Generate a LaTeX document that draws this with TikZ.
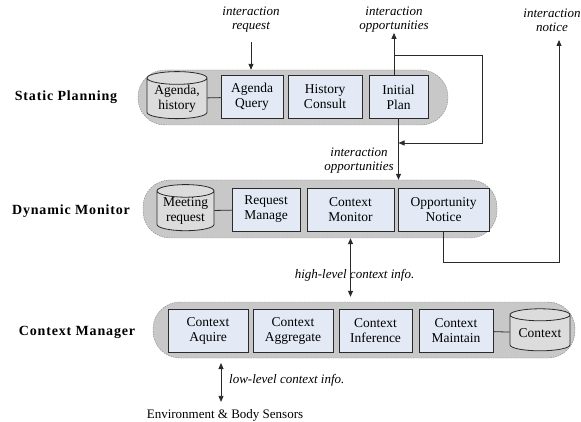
\documentclass[tikz,border=0pt]{standalone}
\usepackage{fontspec}
\setmainfont{Liberation Serif}
\usetikzlibrary{arrows.meta,shapes.geometric}

\definecolor{layergray}{HTML}{C8C8C8}
\definecolor{unitblue}{HTML}{E3EAF6}
\definecolor{drumgray}{HTML}{DCDCDC}
\definecolor{inkgray}{HTML}{2A2A2A}

\tikzset{
  layer/.style={draw=gray, dash pattern=on 1.5pt off 1pt, fill=layergray,
    rounded corners=27pt, inner sep=0pt},
  unit/.style={draw=inkgray, line width=0.9pt, fill=unitblue, minimum height=43pt,
    inner sep=0pt, align=center, font=\fontsize{13.5}{15}\selectfont},
  drum/.style={cylinder, shape border rotate=90, aspect=0.28, draw=inkgray,
    line width=0.8pt, fill=drumgray, inner sep=0pt, align=center,
    font=\fontsize{13.5}{15}\selectfont},
  tier/.style={font=\fontsize{14}{16}\selectfont\bfseries\addfontfeature{LetterSpace=6}},
  flow/.style={font=\fontsize{13}{14}\selectfont\itshape, align=center, inner sep=0pt},
  wire/.style={draw=inkgray, line width=0.8pt},
}

\begin{document}
\begin{tikzpicture}[x=1pt, y=-1pt, >={Triangle[length=6pt,width=5pt]}]
    \useasboundingbox (0,0) rectangle (581,422);

    % Static Planning
    \node[tier] (tsp) at (66,97) {Static Planning};
    \node[layer, minimum width=310pt, minimum height=55pt] (sp) at (293,97.5) {};
    \node[drum, minimum width=60pt, minimum height=47pt] (ah) at (177,98.5) {Agenda,\\history};
    \node[unit, minimum width=62pt] (aq) at (252,97) {Agenda\\Query};
    \node[unit, minimum width=74pt] (hc) at (325,97) {History\\Consult};
    \node[unit, minimum width=59pt] (ip) at (398.5,97) {Initial\\Plan};
    \draw[wire] (ah) -- (aq);

    % Dynamic Monitor
    \node[tier] (tdm) at (71,211) {Dynamic Monitor};
    \node[layer, minimum width=354pt, minimum height=58pt] (dm) at (320,209) {};
    \node[drum, minimum width=57pt, minimum height=44pt] (mr) at (185.5,211) {Meeting\\request};
    \node[unit, minimum width=68pt] (rm) at (266,209.5) {Request\\Manage};
    \node[unit, minimum width=87pt] (cmon) at (350.5,209.5) {Context\\Monitor};
    \node[unit, minimum width=91pt] (on) at (443.5,209.5) {Opportunity\\Notice};
    \draw[wire] (mr) -- (rm);

    % Context Manager
    \node[tier] (tcm) at (77,332) {Context Manager};
    \node[layer, minimum width=422pt, minimum height=56pt] (cm) at (364,330) {};
    \node[unit, minimum width=80pt] (ca) at (208,330.5) {Context\\Aquire};
    \node[unit, minimum width=80pt] (cag) at (293,330.5) {Context\\Aggregate};
    \node[unit, minimum width=73pt] (ci) at (375.5,330.5) {Context\\Inference};
    \node[unit, minimum width=74pt] (cmt) at (456,330.5) {Context\\Maintain};
    \node[drum, minimum width=60pt, minimum height=42pt] (ctx) at (540,333) {Context};
    \draw[wire] (cmt) -- (ctx);

    % Flow labels
    \node[flow] (ir) at (251,20) {interaction\\request};
    \node[flow] (io) at (394,20) {interaction\\opportunities};
    \node[flow] (in) at (552,20) {interaction\\notice};
    \node[flow] (io2) at (359,161) {interaction\\opportunities};
    \node[flow] (hl) at (354.5,275) {high-level context info.};
    \node[flow, anchor=west] (ll) at (229,380) {low-level context info.};
    \node[font=\fontsize{13}{15}\selectfont, inner sep=0pt] (env) at (225,415) {Environment \& Body Sensors};

    % Turning points
    \coordinate (split) at (394,55);
    \coordinate (fbr) at (482,143);
    \coordinate (ncorner) at (559,262);
    \coordinate (ntip) at (559,40);
    \coordinate (lltop) at (221,363);

    % Connectors
    \draw[wire, ->, shorten <=9pt] (ir.south) -- (ir.south |- sp.north);
    \draw[wire, ->] (ip.north -| split) -- (io.south);
    \draw[wire, ->] (split) -| (fbr) -- (fbr -| ip.south);
    \draw[wire, ->] (ip.south) -- (ip.south |- dm.north);
    \draw[wire, ->] (on.south) |- (ncorner) -- (ntip);
    \draw[wire, <->] (cmon.south |- dm.south) -- ([yshift=5pt]cmon.south |- cm.north);
    \draw[wire, <->] (lltop) -- ([yshift=7pt]lltop |- env.north);
\end{tikzpicture}
\end{document}
